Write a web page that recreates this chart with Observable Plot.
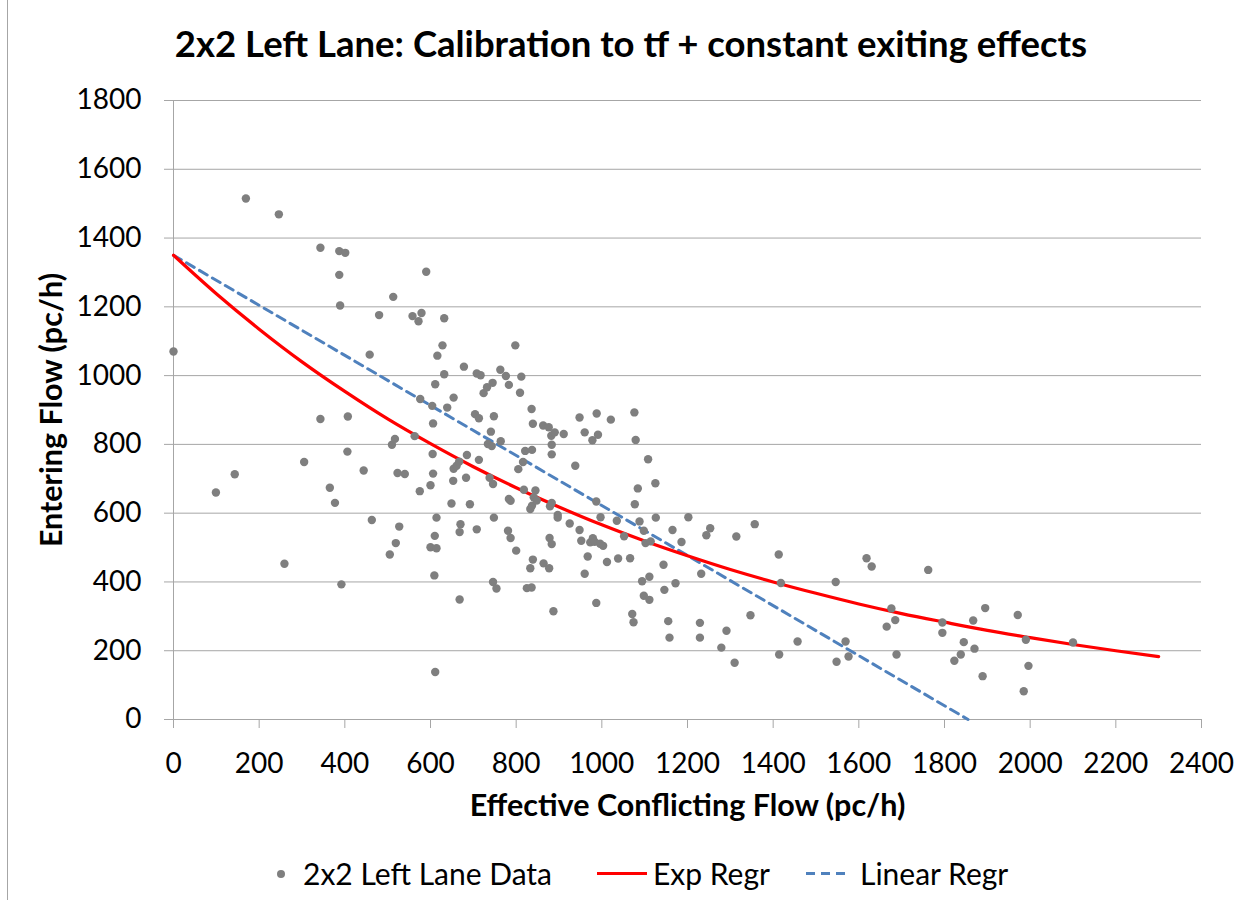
<!DOCTYPE html>
<html>
<head>
<meta charset="utf-8">
<script src="https://cdn.jsdelivr.net/npm/d3@7"></script>
<script src="https://cdn.jsdelivr.net/npm/@observablehq/plot@0.6"></script>
<style>
  html, body { margin: 0; padding: 0; background: #fff; }
  #wrap { position: relative; width: 1250px; height: 907px; overflow: hidden; font-family: Lato, "Open Sans", sans-serif; color: #000; background: #fff; }
  #frameLine { position: absolute; left: 7px; top: 0; width: 1px; height: 900px; background: #a6a6a6; z-index: 5; }
  #title { position: absolute; left: 0; top: 0; width: 1262px; height: 80px; box-sizing: border-box; padding-top: 25px; line-height: 36.5px; font-size: 36.5px; font-weight: bold; text-align: center; white-space: nowrap; }
  #chart { position: absolute; left: 0; top: 80px; }
  #legend { position: absolute; left: 0; top: 850px; width: 1250px; height: 57px; }
  .item { position: absolute; top: 0; height: 57px; box-sizing: border-box; padding-top: 8px; line-height: 30px; font-size: 30px; white-space: nowrap; }
  .sym { position: absolute; top: 0; }
</style>
</head>
<body>
<div id="wrap">
  <div id="title">2x2 Left Lane: Calibration to tf + constant exiting effects</div>
  <div id="chart"></div>
  <div id="legend"></div>
  <div id="frameLine"></div>
</div>
<script>
// Axis ticks
const xTicks = [0, 200, 400, 600, 800, 1000, 1200, 1400, 1600, 1800, 2000, 2200, 2400];
const yTicks = [0, 200, 400, 600, 800, 1000, 1200, 1400, 1600, 1800];

// Scatter data: effective conflicting flow (x) and entering flow (y), pc/h
const dataX = [0,99,143,169,246,259,305,343,343,365,377,387,401,387,389,392,406,407,444,458,
  463,480,505,510,513,517,519,523,527,540,558,563,572,575,576,579,590,600,600,604,
  605,606,606,609,610,611,611,614,614,616,628,632,632,639,649,653,654,654,661,667,
  668,668,670,678,683,685,692,704,708,708,713,713,717,724,732,734,738,741,743,745,
  746,746,748,748,754,763,764,776,781,783,783,787,787,798,800,805,809,812,816,818,
  821,825,833,833,836,836,837,837,839,839,841,845,848,863,864,876,877,878,879,882,
  883,883,883,883,887,890,897,897,911,925,938,948,948,952,960,960,967,973,978,979,
  983,987,987,988,991,996,997,1003,1012,1021,1035,1038,1052,1066,1071,1074,1076,1077,1079,1084,
  1088,1094,1098,1098,1102,1108,1111,1111,1114,1125,1126,1144,1146,1155,1158,1165,1172,1186,1202,1229,
  1229,1232,1244,1253,1279,1291,1310,1314,1347,1357,1413,1414,1418,1457,1546,1548,1569,1576,1618,1630,
  1665,1676,1685,1688,1762,1795,1795,1823,1838,1845,1867,1870,1889,1895,1971,1985,1990,1996,2100];
const dataY = [1070,660,713,1515,1469,453,749,1372,874,674,630,1362,1357,1293,1204,393,779,881,724,1061,
  580,1176,480,799,1229,816,513,717,561,714,1173,824,1158,664,932,1182,1302,501,681,912,
  772,861,715,419,534,975,138,587,498,1058,1088,1167,1004,907,628,694,729,936,738,750,
  349,545,568,1026,703,769,626,888,553,1006,755,876,1001,949,966,801,703,837,795,979,
  685,400,882,587,381,1017,809,999,549,973,641,528,636,1088,491,728,950,997,749,668,
  781,382,612,440,903,384,784,622,860,465,646,666,637,855,454,850,440,528,620,825,
  799,771,630,510,315,835,595,587,830,570,738,878,551,520,835,424,474,515,812,527,
  517,634,339,890,828,511,588,505,458,872,578,468,533,469,307,283,893,626,813,672,
  576,402,549,360,513,757,415,348,518,687,587,450,377,286,238,551,396,516,588,281,
  238,424,536,556,209,258,165,532,303,568,480,189,397,227,400,168,227,183,469,445,
  270,323,289,189,435,282,252,171,189,225,288,206,126,324,304,82,232,156,224];

// Exponential regression curve
const expX = [0,100,200,300,400,500,600,700,800,900,1000,1100,1200,1300,1400,1500,1600,1700,1800,1900,2000,2100,2200,2300];
const expY = [1350,1238,1135,1040,954,874,802,735,674,618,566,519,476,436,400,367,336,308,283,259,238,218,200,183];

// Linear regression line
const linX = [0, 1855];
const linY = [1350, 0];

const gray = "#a6a6a6";
const numFmt = d => String(d);

const chart = Plot.plot({
  width: 1250,
  height: 770,
  marginTop: 20,
  marginBottom: 131,
  marginLeft: 173,
  marginRight: 49,
  x: { domain: [0, 2400] },
  y: { domain: [0, 1800] },
  style: { fontFamily: "Lato, 'Open Sans', sans-serif", fontSize: "28px", color: "#000", background: "transparent", overflow: "visible" },
  marks: [
    Plot.gridY(yTicks.filter(d => d > 0), { stroke: gray, strokeOpacity: 1, strokeWidth: 1 }),
    Plot.ruleY([0], { stroke: gray, strokeWidth: 1 }),
    Plot.ruleX([0], { stroke: gray, strokeWidth: 1 }),
    Plot.axisX(xTicks, { tickSize: 9, tickPadding: 25, stroke: gray, label: null, tickFormat: numFmt, fontSize: 28 }),
    Plot.axisY(yTicks, { tickSize: 9, tickPadding: 23, stroke: gray, label: null, tickFormat: numFmt, fontSize: 28 }),
    Plot.line(linX, { x: linX, y: linY, stroke: "#4f81bd", strokeWidth: 3, strokeDasharray: "9,6" }),
    Plot.line(expX, { x: expX, y: expY, stroke: "#ff0000", strokeWidth: 3.2, curve: "monotone-x" }),
    Plot.dot(dataX, { x: dataX, y: dataY, r: 4.2, fill: "#7f7f7f", stroke: "none" }),
    Plot.text(["Effective Conflicting Flow (pc/h)"], { frameAnchor: "bottom", textAnchor: "middle", dy: 87, lineAnchor: "middle", fontWeight: "bold", fontSize: 30.5 }),
    Plot.text(["Entering Flow (pc/h)"], { frameAnchor: "left", textAnchor: "middle", dx: -121, rotate: -90, lineAnchor: "middle", fontWeight: "bold", fontSize: 30.5 })
  ]
});
document.getElementById("chart").appendChild(chart);

// Legend
const legendItems = [
  { label: "2x2 Left Lane Data", kind: "dot", symX: 276, textX: 303 },
  { label: "Exp Regr", kind: "line", symX: 597, textX: 653 },
  { label: "Linear Regr", kind: "dash", symX: 804, textX: 860 }
];
const legend = document.getElementById("legend");
for (const it of legendItems) {
  const s = document.createElementNS("http://www.w3.org/2000/svg", "svg");
  s.setAttribute("class", "sym");
  s.setAttribute("width", "52");
  s.setAttribute("height", "57");
  s.style.left = it.symX + "px";
  if (it.kind === "dot") {
    s.innerHTML = '<circle cx="5" cy="24" r="4" fill="#7f7f7f"/>';
  } else if (it.kind === "line") {
    s.innerHTML = '<line x1="0" x2="50" y1="23.5" y2="23.5" stroke="#ff0000" stroke-width="3"/>';
  } else {
    s.innerHTML = '<line x1="2" x2="46" y1="23.5" y2="23.5" stroke="#4f81bd" stroke-width="3" stroke-dasharray="9,6"/>';
  }
  legend.appendChild(s);
  const t = document.createElement("div");
  t.className = "item";
  t.style.left = it.textX + "px";
  t.textContent = it.label;
  legend.appendChild(t);
}
</script>
</body>
</html>
